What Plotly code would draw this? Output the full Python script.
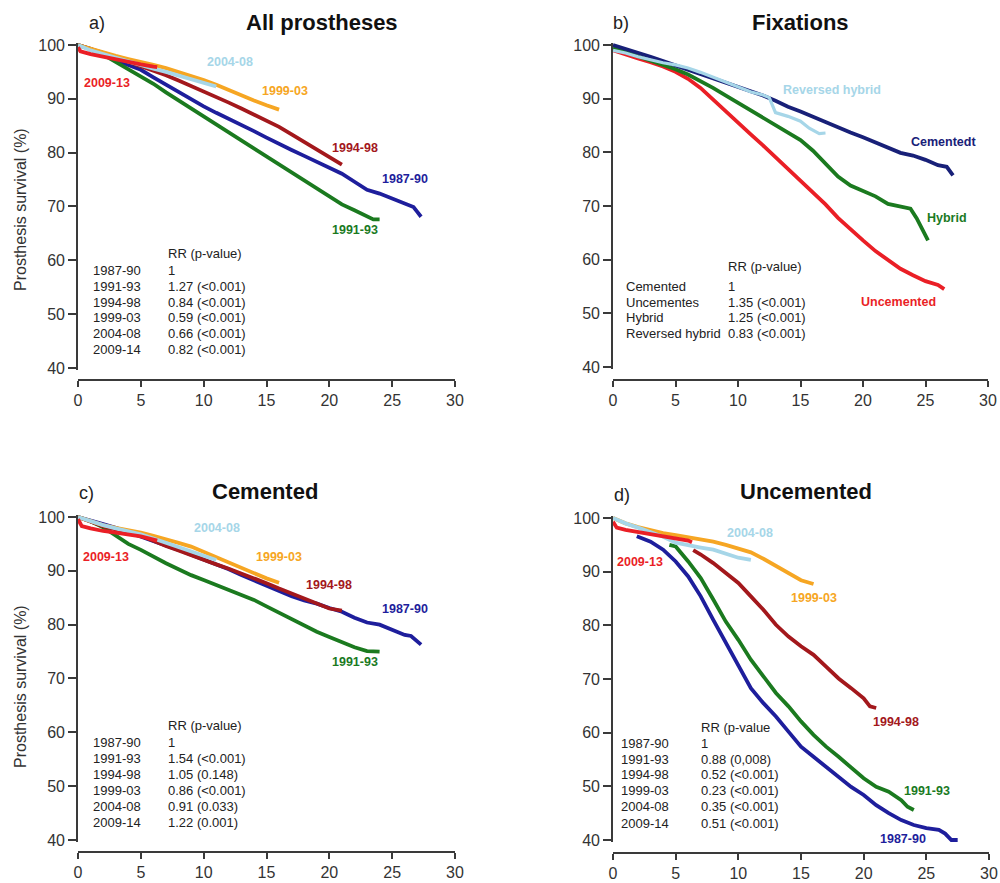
import plotly.graph_objects as go

W, H = 1000, 883

# ---------------- DATA ----------------
years = [0, 1, 2, 3, 4, 5, 6, 7, 8, 9, 10, 11, 12, 13, 14, 15, 16, 17, 18, 19, 20, 21, 22, 23, 24, 25, 26]

# Panel a) All prostheses
a_8790_t = years[:26] + [26.7, 27, 27.3]
a_8790_s = [100, 99.3, 98.3, 97.2, 96.3, 95.4, 94.0, 92.6, 91.2, 89.9, 88.6, 87.4, 86.3, 85.2, 84.0, 82.8,
            81.6, 80.5, 79.4, 78.3, 77.2, 76.1, 74.6, 73.1, 72.4, 71.5, 69.9, 69.0, 68.1]
a_9193_t = years[:24] + [23.5, 24]
a_9193_s = [100, 99.2, 98.2, 96.9, 95.6, 94.2, 92.8, 91.2, 89.7, 88.3, 86.9, 85.4, 83.9, 82.4, 80.9, 79.4,
            77.9, 76.4, 74.8, 73.2, 71.7, 70.4, 69.3, 68.1, 67.6, 67.6]
a_9498_t = years[:22]
a_9498_s = [100, 99.3, 98.6, 97.8, 96.9, 96.1, 95.3, 94.4, 93.4, 92.4, 91.4, 90.3, 89.3, 88.2, 87.1, 86.0,
            84.8, 83.4, 82.0, 80.5, 79.0, 77.8]
a_9903_t = years[:17]
a_9903_s = [100, 99.3, 98.6, 98.0, 97.4, 96.9, 96.3, 95.7, 95.0, 94.3, 93.5, 92.6, 91.6, 90.6, 89.7, 88.8, 88.0]
a_0408_t = years[:12]
a_0408_s = [100, 99.0, 98.3, 97.6, 97.0, 96.3, 95.6, 95.0, 94.3, 93.6, 93.0, 92.3]
a_0913_t = [0, 0.2, 1, 2, 3, 4, 5, 6, 6.3]
a_0913_s = [99.6, 98.8, 98.3, 97.8, 97.3, 96.8, 96.4, 96.0, 95.9]

# Panel b) Fixations
b_cem_t = years + [26.7, 27.2]
b_cem_s = [100, 99.3, 98.5, 97.8, 97.0, 96.2, 95.4, 94.7, 93.9, 93.1, 92.2, 91.4, 90.6, 89.6, 88.5, 87.6,
           86.6, 85.6, 84.6, 83.7, 82.8, 81.8, 80.8, 79.9, 79.4, 78.6, 77.6, 77.3, 75.7]
b_unc_t = years + [26.5]
b_unc_s = [99.0, 98.2, 97.5, 96.8, 96.0, 95.0, 93.7, 92.0, 89.8, 87.8, 85.6, 83.4, 81.3, 79.1, 76.9, 74.7,
           72.5, 70.3, 67.8, 65.6, 63.6, 61.6, 59.9, 58.3, 57.1, 56.0, 55.3, 54.5]
b_hyb_t = years[:24] + [23.8, 24.3, 24.8, 25.2]
b_hyb_s = [99.5, 98.7, 97.9, 97.2, 96.4, 95.5, 94.5, 93.3, 92.0, 90.6, 89.2, 87.8, 86.4, 85.1, 83.8, 82.3,
           80.3, 78.0, 75.5, 73.8, 72.8, 71.8, 70.4, 69.9, 69.5, 67.7, 65.5, 63.6]
b_rev_t = years[:13] + [12.5, 13, 14, 15, 15.7, 16.5, 17]
b_rev_s = [99.0, 98.5, 97.8, 97.2, 96.7, 96.3, 95.7, 94.9, 94.0, 93.0, 92.1, 91.3, 90.7, 90.2, 87.4, 86.7,
           85.8, 84.5, 83.5, 83.6]

# Panel c) Cemented
c_8790_t = years + [26.5, 27, 27.3]
c_8790_s = [100, 99.4, 98.7, 98.0, 97.2, 96.4, 95.6, 94.8, 93.9, 93.0, 92.1, 91.2, 90.3, 89.2, 88.2, 87.2,
            86.3, 85.3, 84.5, 83.9, 83.1, 82.4, 81.3, 80.4, 80.0, 79.1, 78.1, 77.9, 77.0, 76.3]
c_9193_t = years[:25]
c_9193_s = [100, 99.2, 98.1, 96.6, 95.0, 93.9, 92.6, 91.4, 90.3, 89.2, 88.3, 87.4, 86.5, 85.5, 84.6, 83.4,
            82.2, 81.0, 79.8, 78.7, 77.7, 76.8, 75.8, 75.1, 75.0]
c_9498_t = years[:22]
c_9498_s = [100, 99.1, 98.3, 97.7, 97.1, 96.5, 95.6, 94.6, 93.8, 92.9, 92.0, 91.2, 90.4, 89.5, 88.7, 87.7,
            86.7, 85.8, 84.8, 83.9, 83.0, 82.6]
c_9903_t = years[:17]
c_9903_s = [100, 99.2, 98.5, 98.0, 97.6, 97.1, 96.5, 95.9, 95.2, 94.5, 93.5, 92.5, 91.5, 90.5, 89.5, 88.6, 87.8]
c_0408_t = years[:12]
c_0408_s = [100, 99.2, 98.5, 97.9, 97.3, 96.8, 96.0, 95.2, 94.4, 93.5, 92.7, 92.0]
c_0913_t = [0, 0.3, 1, 2, 3, 4, 5, 6, 6.3]
c_0913_s = [99.6, 98.3, 97.9, 97.4, 97.1, 96.8, 96.4, 95.8, 95.6]

# Panel d) Uncemented
d_8790_t = [1.9] + years[3:] + [26.5, 27, 27.5]
d_8790_s = [96.6, 95.6, 94.1, 91.9, 89.1, 85.4, 81.0, 76.7, 72.3, 68.3, 65.5, 63.0, 60.2, 57.4, 55.5, 53.7,
            51.8, 49.9, 48.4, 46.5, 45.0, 43.7, 42.8, 42.2, 41.9, 41.2, 40.0, 40.0]
d_9193_t = [4.5] + years[5:24] + [23.5, 24]
d_9193_s = [95.0, 94.7, 91.9, 88.8, 84.8, 80.7, 77.3, 73.6, 70.5, 67.4, 64.9, 62.1, 59.6, 57.4, 55.5, 53.4,
            51.5, 49.9, 49.0, 47.4, 46.2, 45.6]
d_9498_t = [6.4] + years[7:21] + [20.5, 21]
d_9498_s = [94.0, 93.2, 91.6, 89.7, 87.9, 85.4, 82.9, 80.1, 77.9, 76.1, 74.5, 72.3, 70.1, 68.3, 66.4, 64.9, 64.6]
d_9903_t = years[:17]
d_9903_s = [100, 99.0, 98.3, 97.7, 97.2, 96.8, 96.4, 96.0, 95.6, 95.0, 94.3, 93.6, 92.4, 91.0, 89.6, 88.4, 87.7]
d_0408_t = years[:12]
d_0408_s = [100, 99.0, 98.2, 97.3, 96.5, 95.4, 94.9, 94.5, 94.1, 93.4, 92.6, 92.2]
d_0913_t = [0, 0.3, 1, 2, 3, 4, 5, 6, 6.3]
d_0913_s = [99.3, 98.2, 97.8, 97.4, 97.0, 96.6, 96.2, 95.8, 95.5]

# Text content
period_labels = ["1987-90", "1991-93", "1994-98", "1999-03", "2004-08", "2009-14"]
curve_period_names = ["1987-90", "1991-93", "1994-98", "1999-03", "2004-08", "2009-13"]
fix_labels = ["Cemented", "Uncementes", "Hybrid", "Reversed hybrid"]
fix_curve_names = ["Cementedt", "Uncemented", "Hybrid", "Reversed hybrid"]
rr_a = ["1", "1.27 (<0.001)", "0.84 (<0.001)", "0.59 (<0.001)", "0.66 (<0.001)", "0.82 (<0.001)"]
rr_b = ["1", "1.35 (<0.001)", "1.25 (<0.001)", "0.83 (<0.001)"]
rr_c = ["1", "1.54 (<0.001)", "1.05 (0.148)", "0.86 (<0.001)", "0.91 (0.033)", "1.22 (0.001)"]
rr_d = ["1", "0.88 (0,008)", "0.52 (<0.001)", "0.23 (<0.001)", "0.35 (<0.001)", "0.51 (<0.001)"]
titles = ["All prostheses", "Fixations", "Cemented", "Uncemented"]
letters = ["a)", "b)", "c)", "d)"]
x_ticks = [0, 5, 10, 15, 20, 25, 30]
y_ticks = [40, 50, 60, 70, 80, 90, 100]
y_title = "Prosthesis survival (%)"

# ---------------- STYLE ----------------
C_BLUE = "#1e1e9c"
C_NAVY = "#182078"
C_GREEN = "#1b7a1f"
C_BROWN = "#a3181c"
C_ORANGE = "#f6a623"
C_LBLUE = "#a6d6e8"
C_RED = "#ea1f26"
FONT = "Liberation Sans, Arial, sans-serif"
AXC = "#3a3a3a"


def px(x):
    return x / W


def py(y):
    return 1 - y / H


fig = go.Figure()

# panel geometry: x0px, x1px, y100px, y40px, xaxis_ypx
geom = [
    (78, 455, 45, 368, 380),
    (613, 988, 45, 367, 380),
    (78, 455, 517, 840, 852),
    (613, 989, 518, 840, 853),
]
YR = [39.6, 100.4]

layout_axes = {}
for i, (x0, x1, y100, y40, xay) in enumerate(geom, start=1):
    spu = (y40 - y100) / 60.0
    top = y100 - (YR[1] - 100) * spu
    bot = y40 + (40 - YR[0]) * spu
    xn = "xaxis" if i == 1 else f"xaxis{i}"
    yn = "yaxis" if i == 1 else f"yaxis{i}"
    layout_axes[xn] = dict(domain=[px(x0), px(x1)], range=[0, 30], anchor="free", position=py(xay),
                           showgrid=False, zeroline=False, showline=True, linecolor=AXC, linewidth=1.6,
                           ticks="outside", ticklen=6, tickwidth=1.6, tickcolor=AXC,
                           tickvals=x_ticks, tickfont=dict(family=FONT, size=16, color="#333"),
                           automargin=False, fixedrange=True)
    layout_axes[yn] = dict(domain=[py(bot), py(top)], range=YR, anchor=f"x{'' if i == 1 else i}",
                           showgrid=False, zeroline=False, showline=True, linecolor=AXC, linewidth=1.6,
                           ticks="outside", ticklen=8, tickwidth=1.6, tickcolor=AXC,
                           tickvals=y_ticks, tickfont=dict(family=FONT, size=16, color="#333"),
                           automargin=False, fixedrange=True)


def add(i, t, s, color, width=3.8):
    xa = "x" if i == 1 else f"x{i}"
    ya = "y" if i == 1 else f"y{i}"
    fig.add_trace(go.Scatter(x=t, y=s, mode="lines", xaxis=xa, yaxis=ya,
                             line=dict(color=color, width=width), showlegend=False,
                             hoverinfo="skip"))


# panel a
add(1, a_8790_t, a_8790_s, C_BLUE)
add(1, a_9193_t, a_9193_s, C_GREEN)
add(1, a_9498_t, a_9498_s, C_BROWN)
add(1, a_9903_t, a_9903_s, C_ORANGE)
add(1, a_0408_t, a_0408_s, C_LBLUE)
add(1, a_0913_t, a_0913_s, C_RED)
# panel b
add(2, b_unc_t, b_unc_s, C_RED)
add(2, b_hyb_t, b_hyb_s, C_GREEN)
add(2, b_cem_t, b_cem_s, C_NAVY)
add(2, b_rev_t, b_rev_s, C_LBLUE, 3.2)
# panel c
add(3, c_8790_t, c_8790_s, C_BLUE)
add(3, c_9193_t, c_9193_s, C_GREEN)
add(3, c_9498_t, c_9498_s, C_BROWN)
add(3, c_9903_t, c_9903_s, C_ORANGE)
add(3, c_0408_t, c_0408_s, C_LBLUE)
add(3, c_0913_t, c_0913_s, C_RED)
# panel d
add(4, d_8790_t, d_8790_s, C_BLUE)
add(4, d_9193_t, d_9193_s, C_GREEN)
add(4, d_9498_t, d_9498_s, C_BROWN)
add(4, d_9903_t, d_9903_s, C_ORANGE)
add(4, d_0408_t, d_0408_s, C_LBLUE)
add(4, d_0913_t, d_0913_s, C_RED)

ann = []


def text(x, y, s, size=13, color="#222", bold=False, xanchor="left", angle=0):
    ann.append(dict(x=px(x), y=py(y), xref="paper", yref="paper", text=(f"<b>{s}</b>" if bold else s),
                    showarrow=False, xanchor=xanchor, yanchor="middle", textangle=angle,
                    font=dict(family=FONT, size=size, color=color), borderpad=0))


# titles
title_pos = [(88, 23, 322, 22), (612, 23, 800, 22), (78, 493, 265, 492), (613, 495, 806, 492)]
for (lx, ly, tx, ty), lt, tt in zip(title_pos, letters, titles):
    text(lx, ly, lt, size=18, color="#222")
    text(tx, ty, tt, size=22, color="#111", bold=True, xanchor="center")

# y-axis titles
text(20, 210, y_title, size=16, color="#333", xanchor="center", angle=-90)
text(20, 687, y_title, size=16, color="#333", xanchor="center", angle=-90)

# curve labels
period_colors = [C_BLUE, C_GREEN, C_BROWN, C_ORANGE, C_LBLUE, C_RED]
pos_a = [(405, 179), (355, 230), (355, 148), (285, 91), (230, 62), (107, 83)]
pos_c = [(405, 609), (355, 662), (329, 585), (279, 557), (217, 528), (106, 557)]
pos_d = [(903, 839), (927, 791), (896, 722), (814, 598), (750, 533), (640, 562)]
for pos in (pos_a, pos_c, pos_d):
    for (x, y), name, col in zip(pos, curve_period_names, period_colors):
        text(x, y, name, size=12.5, color=col, bold=True, xanchor="center")
fix_colors = [C_NAVY, C_RED, C_GREEN, C_LBLUE]
pos_b = [(943, 142), (898, 302), (947, 218), (832, 90)]
for (x, y), name, col in zip(pos_b, fix_curve_names, fix_colors):
    text(x, y, name, size=12.5, color=col, bold=True, xanchor="center")

# RR tables
text(167, 253, "RR (p-value)")
for k, (lab, v) in enumerate(zip(period_labels, rr_a)):
    y = [270, 286, 302, 317, 333, 349][k]
    text(92, y, lab)
    text(167, y, v)
text(727, 267, "RR (p-value)")
for k, (lab, v) in enumerate(zip(fix_labels, rr_b)):
    y = [286, 302, 317, 333][k]
    text(625, y, lab)
    text(727, y, v)
text(167, 725, "RR (p-value)")
for k, (lab, v) in enumerate(zip(period_labels, rr_c)):
    y = [742, 758, 774, 790, 806, 822][k]
    text(92, y, lab)
    text(167, y, v)
text(700, 727, "RR (p-value")
for k, (lab, v) in enumerate(zip(period_labels, rr_d)):
    y = [743, 759, 774, 790, 806, 823][k]
    text(620, y, lab)
    text(700, y, v)

fig.update_layout(width=W, height=H, margin=dict(l=0, r=0, t=0, b=0, pad=0, autoexpand=False),
                  autosize=False, paper_bgcolor="white", plot_bgcolor="white", annotations=ann,
                  showlegend=False, **layout_axes)

fig.write_html("out.html", config={"displayModeBar": False},
               post_script="document.documentElement.style.margin='0';document.body.style.margin='0';"
                           "document.body.style.overflow='hidden';")
